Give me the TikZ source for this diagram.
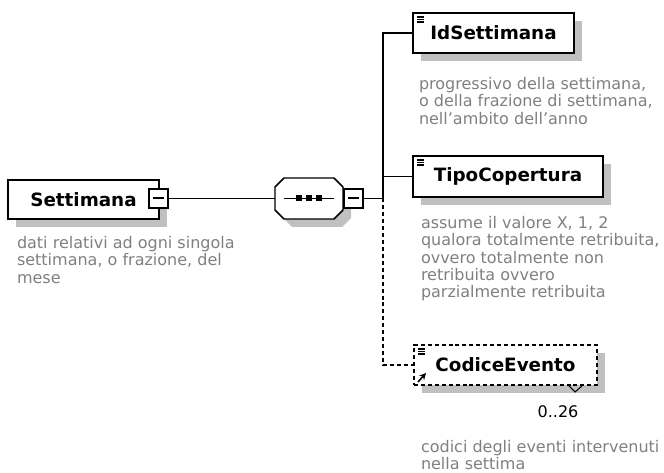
\documentclass[tikz,border=0pt]{standalone}
\usepackage{fontspec}
\setmainfont{DejaVu Sans}
\usetikzlibrary{shadows,calc,arrows.meta}
\definecolor{descgray}{HTML}{808080}
\definecolor{shadowgray}{HTML}{C0C0C0}
\begin{document}
\begin{tikzpicture}[x=0.75pt,y=-0.75pt,
  every node/.style={inner sep=0pt,outer sep=0pt},
  elem/.style={draw=black,line width=1.1pt,fill=white,
    font=\fontsize{13.75pt}{16pt}\selectfont\bfseries,
    drop shadow={shadow xshift=6pt,shadow yshift=-6pt,fill=shadowgray,opacity=1}},
  optelem/.style={elem,dash pattern=on 3pt off 2.2pt},
  minusbox/.style={draw=black,line width=0.8pt,fill=white,minimum size=14.25pt},
  minusline/.style={line width=1.5pt},
  conn/.style={line width=1.1pt},
  optconn/.style={line width=1.1pt,dash pattern=on 3pt off 2.2pt},
  desc/.style={text=descgray,font=\fontsize{12pt}{12.9pt}\selectfont,align=left,anchor=north west},
  icon/.style={line width=0.9pt}]
\useasboundingbox (0,0) rectangle (664,473);

% root element
\node[elem,minimum width=113.25pt,minimum height=29.25pt] (sett) at (83.5,199.5) {Settimana};
\node[minusbox] (m1) at (158.5,198.5) {};
\draw[minusline] ($(m1.west)+(4,0)$) -- ($(m1.east)+(-4,0)$);
\node[desc] (settd) at (17,236.5) {dati relativi ad ogni singola\\settimana, o frazione, del\\mese};

% sequence compositor
\node[minimum width=51pt,minimum height=30.75pt] (seq) at (309,198.5) {};
\fill[shadowgray] ($(seq.north west)+(17,8)$) -- ($(seq.north east)+(-1,8)$) -- ($(seq.north east)+(8,17)$)
  -- ($(seq.south east)+(8,-1)$) -- ($(seq.south east)+(-1,8)$) -- ($(seq.south west)+(17,8)$)
  -- ($(seq.south west)+(8,-1)$) -- ($(seq.north west)+(8,17)$) -- cycle;
\draw[conn,fill=white] ($(seq.north west)+(9,0)$) -- ($(seq.north east)+(-9,0)$) -- ($(seq.north east)+(0,9)$)
  -- ($(seq.south east)+(0,-9)$) -- ($(seq.south east)+(-9,0)$) -- ($(seq.south west)+(9,0)$)
  -- ($(seq.south west)+(0,-9)$) -- ($(seq.north west)+(0,9)$) -- cycle;
\draw[conn] ($(seq.center)+(-25,0)$) -- ($(seq.center)+(25,0)$);
\foreach \dx in {-10,0,10} \fill ($(seq.center)+(\dx-3,-3)$) rectangle ($(seq.center)+(\dx+3,3)$);
\node[minusbox] (m2) at (353.5,198.5) {};
\draw[minusline] ($(m2.west)+(4,0)$) -- ($(m2.east)+(-4,0)$);

% children
\node[elem,minimum width=120.75pt,minimum height=30pt] (id) at (493.5,33) {IdSettimana};
\node[desc] (idd) at (419,77.5) {progressivo della settimana,\\o della frazione di settimana,\\nell'ambito dell'anno};

\node[elem,minimum width=142.5pt,minimum height=30.75pt] (tipo) at (508,176.5) {TipoCopertura};
\node[desc] (tipod) at (421,216.5) {assume il valore X, 1, 2\\qualora totalmente retribuita,\\ovvero totalmente non\\retribuita ovvero\\parzialmente retribuita};

\node[optelem,minimum width=137.25pt,minimum height=30pt] (cod) at (505.5,365) {CodiceEvento};
\node[font=\fontsize{12pt}{14pt}\selectfont] (mult) at ($(cod.south east)+(-39,27)$) {0..26};
\draw[line width=0.8pt] ($(cod.south east)+(-29,0)$) -- ($(cod.south east)+(-22,7)$) -- ($(cod.south east)+(-15,1)$);
\node[desc] (codd) at (421,440) {codici degli eventi intervenuti\\nella settima};

% element icons
\foreach \n in {id,tipo,cod} {
  \foreach \dy in {4,6.5,9} \draw[icon] ($(\n.north west)+(4,\dy)$) -- ($(\n.north west)+(11,\dy)$);
}
\draw[line width=1.2pt,-{Stealth[length=5pt,width=5pt]}] ($(cod.south west)+(4,-3)$) -- ($(cod.south west)+(12,-12)$);

% connectors
\coordinate (j) at (383,198.5);
\draw[conn] (m1.east) -- (seq.west);
\draw[conn] (m2.east) -- (j);
\draw[conn] (j) |- (id.west);
\draw[conn] (j) |- (tipo.west);
\draw[optconn] (j) |- (cod.west);
\end{tikzpicture}
\end{document}
